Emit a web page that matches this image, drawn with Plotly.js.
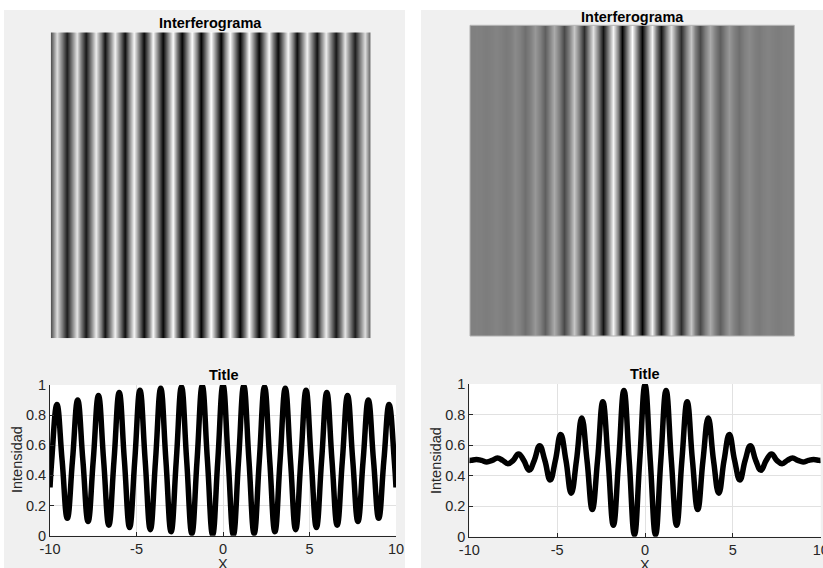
<!DOCTYPE html>
<html><head><meta charset="utf-8">
<script src="https://cdn.plot.ly/plotly-3.0.1.min.js"></script>
<style>html,body{margin:0;padding:0;background:#fff;} #chart{width:823px;height:568px;}</style>
</head><body><div id="chart"></div>
<script>
// Sample positions along X (read at quarter-period steps of the fringes)
const xSamples = [-10, -9.9, -9.6, -9.3, -9.0, -8.7, -8.4, -8.1, -7.8, -7.5, -7.2, -6.9, -6.6, -6.3, -6.0, -5.7, -5.4, -5.1, -4.8, -4.5, -4.2, -3.9, -3.6, -3.3, -3.0, -2.7, -2.4, -2.1, -1.8, -1.5, -1.2, -0.9, -0.6, -0.3, 0, 0.3, 0.6, 0.9, 1.2, 1.5, 1.8, 2.1, 2.4, 2.7, 3.0, 3.3, 3.6, 3.9, 4.2, 4.5, 4.8, 5.1, 5.4, 5.7, 6.0, 6.3, 6.6, 6.9, 7.2, 7.5, 7.8, 8.1, 8.4, 8.7, 9.0, 9.3, 9.6, 9.9, 10];

// Left panel intensity profile
const leftIntensity = [0.32, 0.5, 0.87, 0.5, 0.115, 0.5, 0.90, 0.5, 0.095, 0.5, 0.93, 0.5, 0.07, 0.5, 0.95, 0.5, 0.055, 0.5, 0.965, 0.5, 0.04, 0.5, 0.978, 0.5, 0.027, 0.5, 0.988, 0.5, 0.015, 0.5, 0.995, 0.5, 0.005, 0.5, 1.0, 0.5, 0.005, 0.5, 0.995, 0.5, 0.015, 0.5, 0.988, 0.5, 0.027, 0.5, 0.978, 0.5, 0.04, 0.5, 0.965, 0.5, 0.055, 0.5, 0.95, 0.5, 0.07, 0.5, 0.93, 0.5, 0.095, 0.5, 0.90, 0.5, 0.115, 0.5, 0.87, 0.5, 0.32];

// Right panel intensity profile
const rightIntensity = [0.5, 0.5, 0.505, 0.5, 0.49, 0.5, 0.515, 0.5, 0.478, 0.5, 0.542, 0.5, 0.435, 0.5, 0.596, 0.5, 0.372, 0.5, 0.67, 0.5, 0.285, 0.5, 0.777, 0.5, 0.178, 0.5, 0.884, 0.5, 0.075, 0.5, 0.958, 0.5, 0.012, 0.5, 0.995, 0.5, 0.012, 0.5, 0.958, 0.5, 0.075, 0.5, 0.884, 0.5, 0.178, 0.5, 0.777, 0.5, 0.285, 0.5, 0.67, 0.5, 0.372, 0.5, 0.596, 0.5, 0.435, 0.5, 0.542, 0.5, 0.478, 0.5, 0.515, 0.5, 0.49, 0.5, 0.505, 0.5, 0.5];

const xTicks = [-10, -5, 0, 5, 10];
const xTickLabels = ['-10', '-5', '0', '5', '10'];
const yTicks = [0, 0.2, 0.4, 0.6, 0.8, 1];
const yTickLabels = ['0', '0.2', '0.4', '0.6', '0.8', '1'];
const imageRows = [0, 1];

const FONT = 'Liberation Sans, Arial, Helvetica, sans-serif';
const AX = '#262626';
const GRID = '#e1e1e1';
const gray = [[0, '#000000'], [1, '#ffffff']];

const traces = [
  {type: 'heatmap', x: xSamples, y: imageRows, z: [leftIntensity, leftIntensity], colorscale: gray, zmin: 0, zmax: 1, zsmooth: 'best', showscale: false, xaxis: 'x', yaxis: 'y', hoverinfo: 'skip'},
  {type: 'heatmap', x: xSamples, y: imageRows, z: [rightIntensity, rightIntensity], colorscale: gray, zmin: 0, zmax: 1, zsmooth: 'best', showscale: false, xaxis: 'x2', yaxis: 'y2', hoverinfo: 'skip'},
  {type: 'scatter', mode: 'lines', x: xSamples, y: leftIntensity, line: {color: '#000', width: 5.5, shape: 'spline', smoothing: 1.3}, xaxis: 'x3', yaxis: 'y3', hoverinfo: 'skip', cliponaxis: true},
  {type: 'scatter', mode: 'lines', x: xSamples, y: rightIntensity, line: {color: '#000', width: 5.5, shape: 'spline', smoothing: 1.3}, xaxis: 'x4', yaxis: 'y4', hoverinfo: 'skip', cliponaxis: true}
];

function imgX(d, a) { return {domain: d, range: [-10, 10], visible: false, anchor: a, fixedrange: true}; }
function imgY(d, a) { return {domain: d, range: [0, 1], visible: false, anchor: a, fixedrange: true}; }
function plotX(d, a) {
  return {domain: d, anchor: a, range: [-10, 10], tickvals: xTicks, ticktext: xTickLabels,
    showgrid: true, gridcolor: GRID, gridwidth: 1, zeroline: false, showline: true, linecolor: AX, linewidth: 1,
    ticks: 'inside', ticklen: 4, tickcolor: AX, tickfont: {family: FONT, size: 14.5, color: AX},
    ticklabeloverflow: 'allow', fixedrange: true};
}
function plotY(d, a) {
  return {domain: d, anchor: a, range: [0, 1], tickvals: yTicks, ticktext: yTickLabels,
    showgrid: true, gridcolor: GRID, gridwidth: 1, zeroline: false, showline: true, linecolor: AX, linewidth: 1,
    ticks: 'inside', ticklen: 4, tickcolor: AX, tickfont: {family: FONT, size: 14.5, color: AX},
    ticklabeloverflow: 'allow', fixedrange: true};
}

const W = 823, H = 568;
function px(v) { return v / W; }
function py(v) { return 1 - v / H; }

function ann(text, x, y, opts) {
  return Object.assign({text: text, x: px(x), y: py(y), xref: 'paper', yref: 'paper', showarrow: false,
    xanchor: 'center', yanchor: 'middle', font: {family: FONT, size: 14.5, color: '#000'}}, opts || {});
}

const layout = {
  width: W, height: H,
  margin: {l: 0, r: 0, t: 0, b: 0},
  paper_bgcolor: '#f0f0f0',
  plot_bgcolor: '#ffffff',
  showlegend: false,
  xaxis: imgX([px(50.7), px(370.7)], 'y'),
  yaxis: imgY([py(338.3), py(32.3)], 'x'),
  xaxis2: imgX([px(470), px(794.3)], 'y2'),
  yaxis2: imgY([py(336), py(25.3)], 'x2'),
  xaxis3: plotX([px(50), px(396)], 'y3'),
  yaxis3: plotY([py(535.7), py(385)], 'x3'),
  xaxis4: plotX([px(469.3), px(820.7)], 'y4'),
  yaxis4: plotY([py(536.7), py(384)], 'x4'),
  shapes: [
    {type: 'rect', xref: 'paper', yref: 'paper', x0: 0, x1: 1, y0: py(10), y1: 1, fillcolor: '#ffffff', line: {width: 0}, layer: 'below'},
    {type: 'rect', xref: 'paper', yref: 'paper', x0: px(405), x1: px(421), y0: 0, y1: 1, fillcolor: '#ffffff', line: {width: 0}, layer: 'below'},
    {type: 'rect', xref: 'paper', yref: 'paper', x0: 0, x1: px(4), y0: 0, y1: 1, fillcolor: '#ffffff', line: {width: 0}, layer: 'below'},
    {type: 'rect', xref: 'paper', yref: 'paper', x0: px(470), x1: px(794.3), y0: py(336), y1: py(25.3), fillcolor: 'rgba(0,0,0,0)', line: {width: 1, color: '#b0b0b0'}, layer: 'above'}
  ],
  annotations: [
    ann('<b>Interferograma</b>', 210, 23),
    ann('<b>Interferograma</b>', 632, 17),
    ann('<b>Title</b>', 224, 375),
    ann('<b>Title</b>', 645, 374),
    ann('Intensidad', 17, 460, {textangle: -90, font: {family: FONT, size: 14.5, color: AX}}),
    ann('Intensidad', 436, 460, {textangle: -90, font: {family: FONT, size: 14.5, color: AX}}),
    ann('X', 223, 564, {font: {family: FONT, size: 14.5, color: AX}}),
    ann('X', 645, 565, {font: {family: FONT, size: 14.5, color: AX}})
  ]
};

Plotly.newPlot('chart', traces, layout, {staticPlot: true, displayModeBar: false});
</script></body></html>
